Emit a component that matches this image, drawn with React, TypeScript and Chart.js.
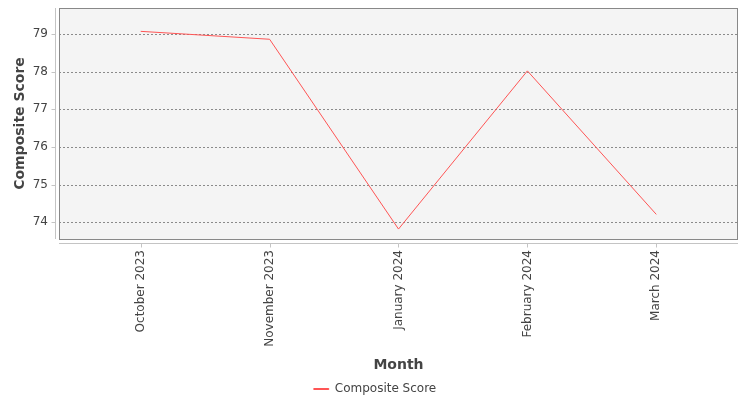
import React, { useEffect, useRef } from "react";
import { Chart, registerables } from "chart.js";

Chart.register(...registerables);

const categories: string[] = ["October 2023", "November 2023", "January 2024", "February 2024", "March 2024"];
const compositeScore: number[] = [79.07, 78.86, 73.82, 78.02, 74.21];
const yTickValues: number[] = [74, 75, 76, 77, 78, 79];
const seriesLabel = "Composite Score";
const xAxisTitle = "Month";
const yAxisTitle = "Composite Score";

const FONT = "'DejaVu Sans', sans-serif";
const TEXT = "#444444";

const plotDecor = {
  id: "plotDecor",
  beforeDraw(chart: any) {
    const { ctx, chartArea } = chart;
    const { left, top, right, bottom } = chartArea;
    ctx.save();
    ctx.fillStyle = "#ffffff";
    ctx.fillRect(0, 0, chart.width, chart.height);
    ctx.fillStyle = "#f4f4f4";
    ctx.fillRect(left, top, right - left, bottom - top);
    const ys = chart.scales.y;
    ctx.strokeStyle = "#8a8a8a";
    ctx.lineWidth = 1;
    ctx.setLineDash([2, 2]);
    for (const t of ys.ticks) {
      const py = Math.round(ys.getPixelForValue(t.value)) + 0.5;
      ctx.beginPath();
      ctx.moveTo(left, py);
      ctx.lineTo(right, py);
      ctx.stroke();
    }
    ctx.setLineDash([]);
    ctx.strokeStyle = "#c4c4c4";
    const ax = Math.round(left) - 4 + 0.5;
    ctx.beginPath();
    ctx.moveTo(ax, top);
    ctx.lineTo(ax, bottom);
    for (const t of ys.ticks) {
      const py = Math.round(ys.getPixelForValue(t.value)) + 0.5;
      ctx.moveTo(ax - 4, py);
      ctx.lineTo(ax, py);
    }
    ctx.stroke();
    const xs = chart.scales.x;
    const ay = Math.round(bottom) + 4 + 0.5;
    ctx.beginPath();
    ctx.moveTo(left, ay);
    ctx.lineTo(right, ay);
    for (const t of xs.ticks) {
      const px = Math.round(xs.getPixelForValue(t.value)) + 0.5;
      ctx.moveTo(px, ay);
      ctx.lineTo(px, ay + 4);
    }
    ctx.stroke();
    ctx.restore();
  },
  afterDatasetsDraw(chart: any) {
    const { ctx, chartArea } = chart;
    const { left, top, right, bottom } = chartArea;
    ctx.save();
    ctx.strokeStyle = "#888888";
    ctx.lineWidth = 1;
    ctx.strokeRect(Math.round(left) + 0.5, Math.round(top) + 0.5, Math.round(right - left) - 1, Math.round(bottom - top));
    ctx.restore();
  },
};

export default function App() {
  const canvasRef = useRef<HTMLCanvasElement | null>(null);

  useEffect(() => {
    document.body.style.margin = "0";
    const canvas = canvasRef.current;
    if (!canvas) return;
    const chart = new Chart(canvas, {
      type: "line",
      data: {
        datasets: [
          {
            label: seriesLabel,
            data: compositeScore.map((v, i) => ({ x: i, y: v })),
            borderColor: "#ff5555",
            backgroundColor: "#ff5555",
            borderWidth: 1,
            pointRadius: 0,
            pointHoverRadius: 0,
            tension: 0,
            fill: false,
          },
        ],
      },
      options: {
        animation: false,
        responsive: false,
        maintainAspectRatio: false,
        devicePixelRatio: 1,
        layout: { padding: { top: 8, right: 0, left: 0, bottom: -5 } },
        plugins: {
          tooltip: { enabled: false },
          legend: {
            position: "bottom",
            labels: {
              font: { family: FONT, size: 12 },
              color: TEXT,
              boxWidth: 15,
              boxHeight: 1,
              padding: 1,
            },
          },
        },
        scales: {
          x: {
            type: "linear",
            min: -0.634,
            max: 4.634,
            grid: { display: false, drawTicks: false },
            border: { display: false },
            afterBuildTicks: (scale: any) => {
              scale.ticks = categories.map((_, i) => ({ value: i }));
            },
            afterFit: (scale: any) => {
              scale.height = 143;
              scale.paddingLeft = 0;
              scale.paddingRight = 0;
            },
            ticks: {
              autoSkip: false,
              minRotation: 90,
              maxRotation: 90,
              padding: 11,
              font: { family: FONT, size: 12 },
              color: TEXT,
              callback: (v: any) => categories[Math.round(Number(v))] ?? "",
            },
            title: {
              display: true,
              text: xAxisTitle,
              font: { family: FONT, size: 14, weight: "bold" },
              color: TEXT,
              padding: { top: 0, bottom: 8 },
            },
          },
          y: {
            type: "linear",
            min: 73.556,
            max: 79.69,
            grid: { display: false, drawTicks: false },
            border: { display: false },
            afterBuildTicks: (scale: any) => {
              scale.ticks = yTickValues.map((v) => ({ value: v }));
            },
            afterFit: (scale: any) => {
              scale.width = 59;
              scale.paddingTop = 0;
              scale.paddingBottom = 0;
            },
            ticks: {
              padding: 11,
              font: { family: FONT, size: 12 },
              color: TEXT,
              callback: (v: any) => String(v),
            },
            title: {
              display: true,
              text: yAxisTitle,
              font: { family: FONT, size: 14, weight: "bold" },
              color: TEXT,
              padding: { top: 12, bottom: 0 },
            },
          },
          yRightSpacer: {
            type: "linear",
            position: "right",
            display: true,
            min: 0,
            max: 1,
            grid: { display: false, drawTicks: false },
            border: { display: false },
            ticks: { display: false },
            afterFit: (scale: any) => {
              scale.width = 12;
              scale.paddingTop = 0;
              scale.paddingBottom = 0;
            },
          },
        },
      },
      plugins: [plotDecor],
    });
    return () => chart.destroy();
  }, []);

  return (
    <div style={{ width: 750, height: 400 }}>
      <canvas ref={canvasRef} width={750} height={400} style={{ display: "block", width: 750, height: 400 }} />
    </div>
  );
}
